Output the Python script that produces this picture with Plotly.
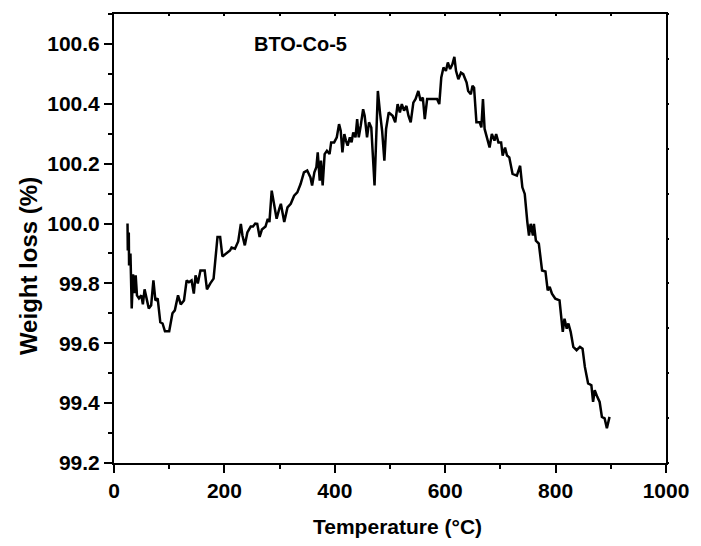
import plotly.graph_objects as go

temperature = [24.5, 25.0, 26.8, 27.3, 29.8, 32.1, 34.5, 37.0, 39.3, 41.6, 45.2, 49.5, 52.3, 55.4, 58.4,
               63.0, 67.3, 71.4, 75.0, 79.1, 83.9, 88.0, 92.3, 100.0, 105.9, 110.2, 116.0, 120.9, 126.8,
               131.6, 135.7, 140.5, 144.6, 147.7, 151.8, 156.6, 164.3, 168.4, 174.5, 180.4, 187.5, 192.3,
               196.4, 204.1, 210.2, 213.0, 219.1, 225.0, 229.8, 232.7, 237.0, 241.6, 247.7, 251.8, 255.9,
               259.5, 263.8, 267.9, 274.5, 278.6, 281.6, 285.7, 290.5, 294.6, 299.5,
               302.3, 308.4, 314.3, 320.2, 326.3, 332.1, 338.0, 344.1, 350.0, 355.9, 358.9, 363.0, 366.6,
               369.1, 372.7, 375.0, 378.0, 381.6, 385.7, 390.5, 393.4, 398.8, 403.6, 407.7, 410.7, 413.8,
               417.3, 420.2, 423.2, 427.3, 430.4, 433.4, 437.5, 440.5, 443.4, 447.0, 451.3, 454.1, 458.4,
               462.0, 466.1, 472.0, 478.0, 482.1, 485.7, 489.8, 492.9, 497.7, 504.8, 509.5, 513.8, 517.9,
               521.4, 525.5, 529.8, 533.4, 537.5, 542.3, 546.4, 551.3, 555.4, 559.5, 563.0, 567.3, 576.3,
               585.2, 589.3, 592.9, 596.9, 601.3, 604.8, 608.9, 613.0, 616.6, 619.6, 623.8, 628.6, 632.7,
               638.8, 641.6, 646.4, 649.5, 652.3, 656.6, 662.5, 665.5, 668.4, 671.4, 675.5, 680.4, 684.5,
               689.3, 692.3, 696.4, 701.3, 704.1, 708.4, 712.0, 716.1, 722.0, 729.8, 735.7, 739.8, 744.1,
               748.8, 751.8, 754.8, 758.9, 760.7, 764.3, 769.6, 775.5, 781.6, 785.7, 789.3, 793.4, 799.5,
               807.1, 813.0, 816.1, 820.2, 823.2, 827.3, 832.1, 838.0, 844.1, 848.8, 853.0, 858.9, 864.8,
               867.9, 870.9, 875.5, 879.8, 883.9, 888.8, 892.9, 897.7]

weight = [100.00, 99.91, 99.97, 99.86, 99.90, 99.716, 99.83, 99.767, 99.827, 99.76, 99.75, 99.76, 99.73,
          99.78, 99.755, 99.716, 99.727, 99.81, 99.743, 99.75, 99.67, 99.666, 99.64, 99.64, 99.70, 99.71,
          99.76, 99.73, 99.743, 99.81, 99.804, 99.81, 99.766, 99.827, 99.80, 99.843, 99.843, 99.78, 99.80,
          99.816, 99.955, 99.955, 99.89, 99.90, 99.91, 99.92, 99.916, 99.94, 99.999, 99.96, 99.927, 99.97,
          99.99, 99.99, 100.0, 99.999, 99.955, 99.98, 99.99, 100.016, 100.005, 100.11, 100.054, 100.016,
          100.05,
          100.066, 100.005, 100.054, 100.066, 100.093, 100.104, 100.132, 100.171, 100.177, 100.154,
          100.127, 100.171, 100.188, 100.238, 100.143, 100.21, 100.127, 100.232, 100.243, 100.232,
          100.271, 100.271, 100.288, 100.332, 100.31, 100.238, 100.299, 100.277, 100.26, 100.288,
          100.271, 100.304, 100.288, 100.349, 100.288, 100.327, 100.382, 100.36, 100.288, 100.338,
          100.321, 100.127, 100.443, 100.366, 100.31, 100.21, 100.316, 100.371, 100.36, 100.338,
          100.399, 100.371, 100.399, 100.377, 100.393, 100.36, 100.338, 100.404, 100.416, 100.443,
          100.41, 100.421, 100.349, 100.416, 100.416, 100.416, 100.399, 100.488, 100.521, 100.51,
          100.538, 100.516, 100.532, 100.557, 100.51, 100.482, 100.504, 100.499, 100.471, 100.443,
          100.432, 100.46, 100.454, 100.338, 100.338, 100.321, 100.416, 100.316, 100.288, 100.254,
          100.299, 100.277, 100.299, 100.271, 100.271, 100.227, 100.254, 100.227, 100.221, 100.166,
          100.16, 100.193, 100.121, 100.099, 100.005, 99.96, 99.999, 99.96, 99.999, 99.943, 99.933,
          99.843, 99.84, 99.777, 99.788, 99.766, 99.749, 99.743, 99.638, 99.682, 99.649, 99.666, 99.638,
          99.588, 99.577, 99.588, 99.582, 99.521, 99.466, 99.46, 99.404, 99.443, 99.421, 99.404, 99.354,
          99.349, 99.316, 99.354]

x_ticks = [0, 200, 400, 600, 800, 1000]
y_ticks = [99.2, 99.4, 99.6, 99.8, 100.0, 100.2, 100.4, 100.6]
right_ticks = [99.2 + 0.15 * i for i in range(11)]
sample_label = "BTO-Co-5"
x_title = "Temperature (°C)"
y_title = "Weight loss (%)"

FONT = "Liberation Sans, Arial, sans-serif"
tf = dict(family=FONT, size=21, color="black", weight="bold")

fig = go.Figure()
fig.add_trace(go.Scatter(x=temperature, y=weight, mode="lines",
                         line=dict(color="black", width=2.5), showlegend=False, hoverinfo="skip"))
fig.add_trace(go.Scatter(x=[None], y=[None], xaxis="x2", yaxis="y2", showlegend=False))

fig.update_layout(
    width=701, height=546,
    margin=dict(l=114, r=27, t=12, b=83),
    paper_bgcolor="white", plot_bgcolor="white",
    xaxis=dict(range=[0, 1000], tickvals=x_ticks, ticks="outside", ticklen=8, tickwidth=2,
               tickcolor="black", showline=True, linewidth=2, linecolor="black", mirror=True,
               showgrid=False, zeroline=False, tickfont=tf,
               minor=dict(dtick=100, ticks="outside", ticklen=4, tickwidth=2, tickcolor="black")),
    yaxis=dict(range=[99.2, 100.7], tickvals=y_ticks, tickformat=".1f", ticks="outside", ticklen=8,
               tickwidth=2, tickcolor="black", showline=True, linewidth=2, linecolor="black",
               mirror=True, showgrid=False, zeroline=False, tickfont=tf,
               minor=dict(dtick=0.1, tick0=99.2, ticks="outside", ticklen=4, tickwidth=2, tickcolor="black")),
    xaxis2=dict(overlaying="x", side="top", range=[0, 1000], tickvals=list(range(100, 1000, 100)),
                ticks="inside", ticklen=2, tickwidth=2, tickcolor="black", showticklabels=False,
                showgrid=False, zeroline=False, showline=False),
    yaxis2=dict(overlaying="y", side="right", range=[99.2, 100.7], tickvals=right_ticks,
                ticks="outside", ticklen=2, tickwidth=2, tickcolor="black", showticklabels=False,
                showgrid=False, zeroline=False, showline=False),
    annotations=[
        dict(text=sample_label, x=250, y=100.6, xref="x", yref="y", xanchor="left",
             yanchor="middle", showarrow=False,
             font=dict(family=FONT, size=20, color="black", weight="bold")),
        dict(text=x_title, x=0.514, y=-0.1419, xref="paper", yref="paper", xanchor="center",
             yanchor="middle", showarrow=False, font=tf),
        dict(text=y_title, x=-0.1536, y=0.439, xref="paper", yref="paper", xanchor="center",
             yanchor="middle", showarrow=False, textangle=-90,
             font=dict(family=FONT, size=24, color="black", weight="bold")),
    ],
)

fig.write_html("out.html")
